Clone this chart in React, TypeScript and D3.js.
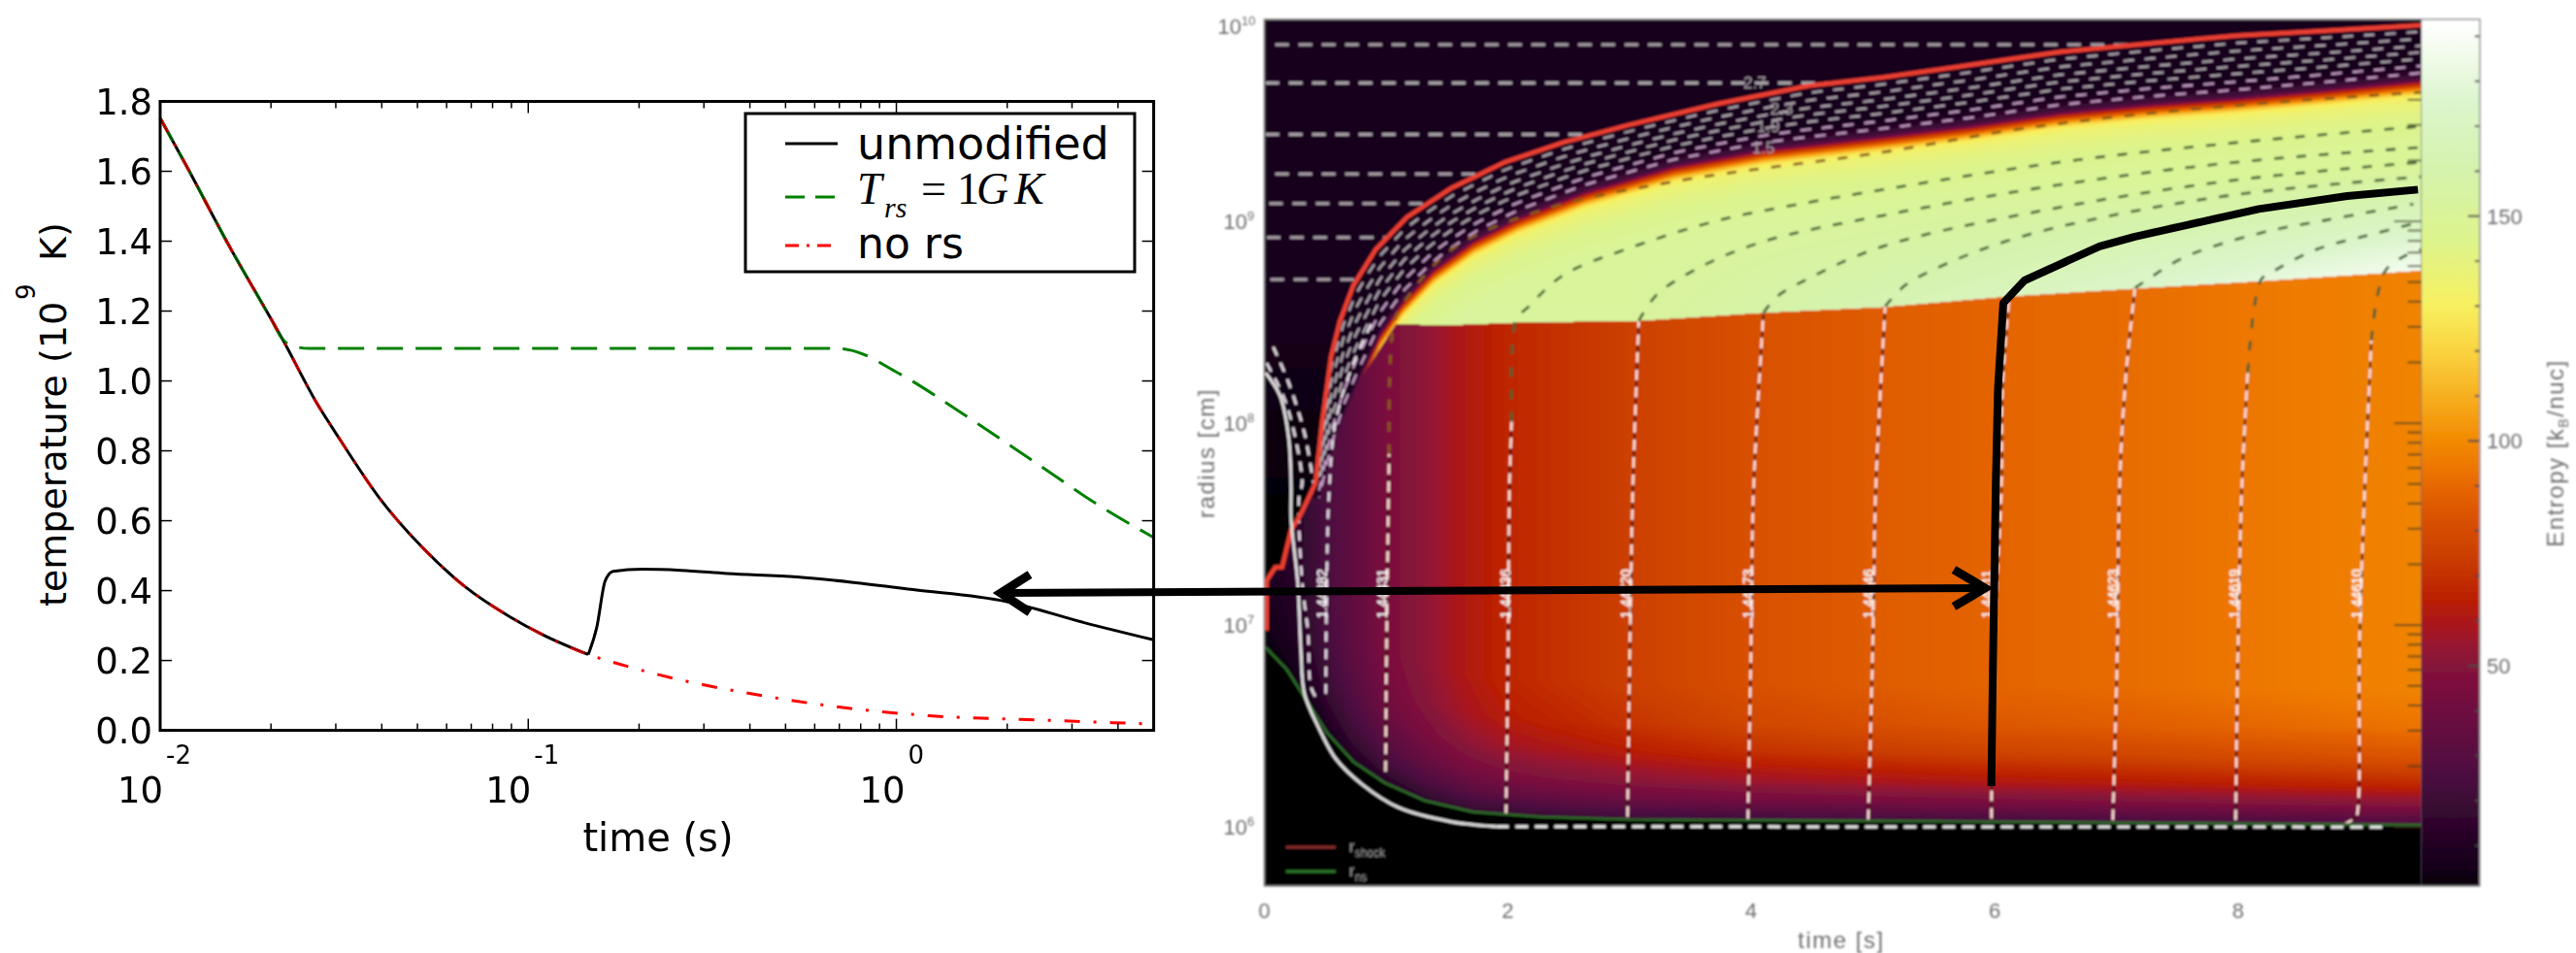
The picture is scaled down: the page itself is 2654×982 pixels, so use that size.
import React, { useMemo } from "react";
import * as d3 from "d3";

// ---------- left panel data (time in s, temperature in GK) ----------
const sharedT = [0.01, 0.01175, 0.01552, 0.01995, 0.02148, 0.02673, 0.0309, 0.03936, 0.0514, 0.067, 0.0895, 0.1089, 0.1455];
const sharedK = [1.752, 1.618, 1.38, 1.18, 1.12, 0.934, 0.83, 0.666, 0.525, 0.413, 0.324, 0.275, 0.217];
const blackT = [0.1455, 0.1535, 0.1618, 0.17, 0.204, 0.26, 0.3475, 0.537, 0.755, 1.11, 1.986, 3.22, 5];
const blackK = [0.217, 0.295, 0.428, 0.455, 0.461, 0.458, 0.449, 0.439, 0.424, 0.403, 0.369, 0.309, 0.259];
const greenT = [0.01, 0.01175, 0.01552, 0.01995, 0.02148, 0.0229, 0.0255, 0.668, 0.736, 1.01, 1.52, 2.3, 3.55, 5];
const greenK = [1.752, 1.618, 1.38, 1.18, 1.12, 1.1, 1.093, 1.093, 1.09, 1.023, 0.905, 0.778, 0.644, 0.552];
const redT = [0.1766, 0.248, 0.383, 0.684, 1.225, 2.41, 5];
const redK = [0.19, 0.149, 0.109, 0.068, 0.042, 0.03, 0.018];
const yTickVals = [0, 0.2, 0.4, 0.6, 0.8, 1.0, 1.2, 1.4, 1.6, 1.8];
const xDecades = [0.01, 0.1, 1];
const xExponents = ["-2", "-1", "0"];
const legendNames = ["unmodified", "no rs"];

// ---------- right panel data (time in s, log10 radius in cm) ----------
const shockT = [0.018, 0.02, 0.09, 0.146, 0.22, 0.3, 0.421, 0.476, 0.549, 0.622, 0.732, 0.915, 1.17, 1.538, 1.977, 2.453, 3.0, 3.735, 4.467, 5.083, 5.81, 6.535, 7.26, 7.99, 8.714, 9.505];
const shockR = [6.973, 7.222, 7.286, 7.286, 7.47, 7.55, 7.704, 8.009, 8.33, 8.507, 8.683, 8.86, 9.02, 9.165, 9.293, 9.39, 9.478, 9.583, 9.671, 9.713, 9.775, 9.839, 9.88, 9.92, 9.944, 9.971];
const edgeT = [0.45, 0.6, 0.769, 0.952, 1.135, 1.391, 1.72, 2.087, 2.636, 3.369, 4.1, 5.08, 5.81, 6.535, 7.26, 7.99, 8.714, 9.505];
const edgeR = [7.6, 7.95, 8.2, 8.442, 8.603, 8.764, 8.908, 9.02, 9.149, 9.277, 9.358, 9.425, 9.478, 9.542, 9.583, 9.615, 9.655, 9.703];
const cutT = [0.45, 0.6, 0.769, 1.08, 1.54, 2.087, 3.076, 4.1, 5.08, 6.1, 7.15, 8.17, 9.505];
const cutR = [7.6, 7.95, 8.2, 8.49, 8.486, 8.499, 8.507, 8.547, 8.575, 8.627, 8.667, 8.703, 8.756];
const nsT = [0.0, 0.018, 0.183, 0.33, 0.513, 0.732, 0.989, 1.318, 1.72, 2.27, 3.0, 5.08, 9.505];
const nsR = [6.89, 6.885, 6.781, 6.644, 6.468, 6.323, 6.219, 6.131, 6.074, 6.05, 6.037, 6.03, 6.01];
const surfT = [0.01, 0.128, 0.2, 0.22, 0.22, 0.275, 0.3, 0.33, 0.44, 0.586, 0.806, 1.098, 1.538, 1.904];
const surfR = [8.25, 8.137, 7.929, 7.688, 7.527, 7.206, 6.885, 6.66, 6.5, 6.339, 6.21, 6.098, 6.026, 6.002];
const footT = [1.904, 9.2];
const footR = [6.002, 6.0];
const coreEntropyT = [0, 0.3, 0.5, 0.75, 1, 1.3, 1.6, 2, 3, 4, 5, 6, 7, 8, 9.5];
const coreEntropyS = [8, 15, 25, 35, 45, 52, 60, 67, 75, 82, 86, 89, 91, 94, 98];
const heightPx = [0, 20, 40, 70, 100, 140];
const heightF = [0.25, 0.5, 0.68, 0.85, 0.95, 1];
const fringePx = [0, 4, 8, 12, 16, 22, 35, 70];
const fringeS = [30, 62, 85, 110, 128, 136, 142, 150];
const entropyStops = [0, 5, 25, 40, 50, 55, 60, 65, 75, 82, 89, 95, 100, 110, 120, 130, 145, 160, 175, 193];
const entropyColors = ["#000000", "#14001a", "#4a0c3f", "#6f1040", "#85123a", "#991530", "#ad1818", "#bb2000", "#cc4000", "#d85000", "#e46400", "#ee7a00", "#f28a00", "#f7b020", "#fad340", "#f8f060", "#dcf48e", "#d6f3ac", "#dcf5cc", "#ffffff"];
const cbTicks = d3.range(10, 191, 10);
const cbLabels = [50, 100, 150];
const rDecades = [6, 7, 8, 9, 10];
const tTicks = [0, 2, 4, 6, 8];

const shells: [number, number][][] = [
  [[0.996, 6.275], [1.007, 7.046], [1.025, 7.848], [1.062, 8.491], [1.135, 8.587], [1.538, 8.86], [2.27, 9.053], [3.369, 9.197], [5.082, 9.342], [6.172, 9.454], [7.262, 9.534], [8.351, 9.591], [9.505, 9.639]],
  [[1.985, 6.058], [2.003, 6.885], [2.014, 7.688], [2.032, 8.009], [2.069, 8.515], [2.16, 8.571], [2.453, 8.732], [3.003, 8.868], [3.735, 9.005], [4.467, 9.093], [5.082, 9.157], [6.535, 9.293], [7.988, 9.39], [9.505, 9.47]],
  [[2.984, 6.05], [3.003, 6.885], [3.028, 7.688], [3.076, 8.507], [3.222, 8.635], [3.552, 8.764], [4.101, 8.9], [5.082, 9.029], [6.535, 9.181], [7.988, 9.293], [9.505, 9.366]],
  [[3.973, 6.034], [3.998, 6.885], [4.02, 7.688], [4.101, 8.547], [4.211, 8.627], [4.467, 8.715], [5.082, 8.876], [6.535, 9.069], [7.988, 9.205], [9.505, 9.293]],
  [[4.961, 6.034], [4.998, 6.885], [5.024, 7.688], [5.101, 8.579], [5.265, 8.683], [5.628, 8.796], [6.172, 8.916], [6.899, 9.021], [7.988, 9.133], [9.505, 9.221]],
  [[5.973, 6.042], [5.991, 6.885], [6.056, 7.688], [6.063, 8.17], [6.118, 8.61], [6.245, 8.699], [6.862, 8.876], [8.17, 9.061], [9.477, 9.157]],
  [[6.971, 6.034], [7.008, 6.885], [7.026, 7.688], [7.08, 8.25], [7.153, 8.67], [7.225, 8.699], [7.552, 8.82], [8.17, 8.94], [8.714, 9.005], [9.44, 9.085]],
  [[7.98, 6.034], [7.999, 6.885], [8.031, 7.688], [8.079, 8.25], [8.188, 8.71], [8.278, 8.748], [8.641, 8.86], [9.077, 8.932], [9.44, 8.988]],
  [[8.859, 6.01], [8.968, 6.05], [8.986, 6.098], [8.997, 6.885], [9.041, 7.688], [9.095, 8.41], [9.204, 8.75], [9.368, 8.828], [9.505, 8.86]],
];
const earlyShells: [number, number][][] = [
  [[0.505, 6.66], [0.513, 7.206], [0.531, 7.64], [0.586, 8.009], [0.732, 8.298], [0.879, 8.491]],
  [[0.018, 8.298], [0.183, 8.09], [0.311, 7.704], [0.286, 7.64], [0.311, 7.206], [0.359, 6.965], [0.384, 6.692], [0.439, 6.628]],
  [[0.073, 8.378], [0.2, 8.2], [0.33, 7.95], [0.403, 7.704]],
];
const staticR = [9.875, 9.685, 9.43, 9.234, 9.088, 8.92, 8.712];
const staticStart = [0.09, 0.01, 0.01, 0.09, 0.04, 0.02, 0.05];
const bandFractions = [0.12, 0.25, 0.38, 0.5, 0.62, 0.75, 0.88];
const shellNames = ["1.44382", "1.44431", "1.44436", "1.44720", "1.44173", "1.44546", "1.44611", "1.44623", "1.44619", "1.44610"];
const shellNameT = [0.476, 0.97, 1.978, 2.966, 3.973, 4.96, 5.936, 6.97, 7.97, 8.97];
const bandNames = ["2.7", "2.3", "1.9", "1.5"];
const bandNameT = [4.03, 4.25, 4.14, 4.1];
const bandNameR = [9.687, 9.56, 9.47, 9.365];
const markT = [5.973, 5.984, 6.009, 6.027, 6.071, 6.245, 6.862, 7.153, 8.17, 8.896, 9.477];
const markR = [6.203, 6.725, 7.688, 8.17, 8.595, 8.707, 8.876, 8.924, 9.061, 9.125, 9.157];

const ramp = (a: number[], b: number[]) => d3.scaleLinear().domain(a).range(b).clamp(true);

const xL = d3.scaleLog().domain([0.01, 5]).range([165, 1188.6]);
const yL = d3.scaleLinear().domain([0, 1.8]).range([752.6, 104.5]);
const xR = d3.scaleLinear().domain([0, 9.505]).range([1302.6, 2494.6]);
const yR = d3.scaleLog().domain([5.1e5, 1e10]).range([913, 20]);
const yS = d3.scaleLinear().domain([50, 150]).range([686, 222.7]);

const zip = (a: number[], b: number[]) => a.map((v, i) => [v, b[i]] as [number, number]);
const lineL = d3.line<[number, number]>().x((d) => xL(d[0])).y((d) => yL(d[1])).curve(d3.curveMonotoneX);
const lineR = d3.line<[number, number]>().x((d) => xR(d[0])).y((d) => yR(10 ** d[1]));
const smoothR = d3.line<[number, number]>().x((d) => xR(d[0])).y((d) => yR(10 ** d[1])).curve(d3.curveCatmullRom);

const shockAt = ramp(shockT, shockR);
const edgeAt = ramp(edgeT, edgeR);
const cutAt = ramp(cutT, cutR);
const nsAt = ramp(nsT, nsR);
const shockInverse = ramp(shockR.slice(8), shockT.slice(8));

function buildField(): string {
  const W = 1192, H = 893;
  const cv = document.createElement("canvas");
  cv.width = W; cv.height = H;
  const ctx = cv.getContext("2d");
  if (!ctx) return "";
  const img = ctx.createImageData(W, H);
  const colorOf = d3.scaleLinear<string>().domain(entropyStops).range(entropyColors).interpolate(d3.interpolateRgb).clamp(true);
  const lut: number[][] = [];
  for (let i = 0; i <= 1940; i++) { const c = d3.rgb(colorOf(i / 10)); lut.push([c.r, c.g, c.b]); }
  const core = ramp(coreEntropyT, coreEntropyS);
  const hF = ramp(heightPx, heightF);
  const fr = ramp(fringePx, fringeS);
  const env = ramp([0, 6, 14], [26, 16, 7]);
  const gain = ramp([3, 6, 9.5], [2, 18, 38]);
  const decade = 893 / Math.log10(1e10 / 5.1e5);
  for (let px = 0; px < W; px++) {
    const t = xR.invert(1302.6 + px + 0.5);
    const sh = shockAt(t), ed = edgeAt(t), cu = cutAt(t), ns = nsAt(t), full = core(t), g = gain(t);
    for (let py = 0; py < H; py++) {
      const lr = Math.log10(yR.invert(20 + py + 0.5));
      let s = 0;
      if (lr < ns) s = 0;
      else if (lr > sh || t < 0.018) s = lr > 8.4 ? 5 : lr > 7.4 ? 5 * (lr - 7.4) : 0;
      else if (lr > ed) s = env((lr - ed) * decade);
      else if (lr > cu) {
        const e = (lr - cu) * decade;
        s = fr((ed - lr) * decade) + g * Math.max(0, 1 - e / 110);
      } else s = full * hF((lr - ns) * decade);
      const c = lut[Math.max(0, Math.min(1940, Math.round(s * 10)))];
      const k = (py * W + px) * 4;
      img.data[k] = c[0]; img.data[k + 1] = c[1]; img.data[k + 2] = c[2]; img.data[k + 3] = 255;
    }
  }
  ctx.putImageData(img, 0, 0);
  return cv.toDataURL("image/png");
}

const sans = "'DejaVu Sans', sans-serif";
const blurFont = "'Liberation Sans', sans-serif";

function LeftPanel() {
  const minor = xL.ticks().filter((v) => !xDecades.some((d) => Math.abs(d - v) < 1e-9));
  const x0 = 165, x1 = 1188.6, y0 = 752.6, y1 = 104.5;
  return (
    <g fontFamily={sans} fill="#000">
      <path d={lineL(zip(sharedT, sharedK))!} fill="none" stroke="#000" strokeWidth={3} />
      <path d={lineL(zip(blackT, blackK))!} fill="none" stroke="#000" strokeWidth={3} />
      <path d={lineL(zip(greenT, greenK))!} fill="none" stroke="#008000" strokeWidth={3} strokeDasharray="27 13" />
      <path d={lineL(zip(sharedT, sharedK).concat(zip(redT, redK)))!} fill="none" stroke="#ff0000" strokeWidth={3} strokeDasharray="16 14 3 14" />
      <path d={lineL(zip(sharedT, sharedK))!} fill="none" stroke="#000" strokeWidth={1.2} opacity={0.6} />
      {yTickVals.map((v) => (
        <g key={v}>
          <line x1={x0} x2={x0 + 12} y1={yL(v)} y2={yL(v)} stroke="#000" strokeWidth={1.5} />
          <line x1={x1} x2={x1 - 12} y1={yL(v)} y2={yL(v)} stroke="#000" strokeWidth={1.5} />
          <text x={157} y={yL(v)} dy="0.37em" textAnchor="end" fontSize={37}>{v.toFixed(1)}</text>
        </g>
      ))}
      {minor.map((v) => (
        <g key={v}>
          <line x1={xL(v)} x2={xL(v)} y1={y0} y2={y0 - 7} stroke="#000" strokeWidth={1.5} />
          <line x1={xL(v)} x2={xL(v)} y1={y1} y2={y1 + 7} stroke="#000" strokeWidth={1.5} />
        </g>
      ))}
      {xDecades.map((v, i) => {
        const shift = xExponents[i].length > 1 ? 3 : 9;
        return (
          <g key={v}>
            <line x1={xL(v)} x2={xL(v)} y1={y0} y2={y0 - 12} stroke="#000" strokeWidth={1.5} />
            <line x1={xL(v)} x2={xL(v)} y1={y1} y2={y1 + 12} stroke="#000" strokeWidth={1.5} />
            <text x={xL(v) + shift} y={827} textAnchor="end" fontSize={37}>10</text>
            <text x={xL(v) + shift + 3} y={787} fontSize={26}>{xExponents[i]}</text>
          </g>
        );
      })}
      <rect x={x0} y={y1} width={x1 - x0} height={y0 - y1} fill="none" stroke="#000" strokeWidth={3} />
      <text x={678} y={877} textAnchor="middle" fontSize={40}>time (s)</text>
      <text transform="translate(68,625) rotate(-90)" fontSize={38}>temperature (10</text>
      <text transform="translate(36,309) rotate(-90)" fontSize={26}>9</text>
      <text transform="translate(68,269) rotate(-90)" fontSize={38}>K)</text>
      <rect x={768} y={117} width={401} height={163} fill="#fff" stroke="#000" strokeWidth={3} />
      <line x1={809} x2={863} y1={148} y2={148} stroke="#000" strokeWidth={3} />
      <line x1={809} x2={863} y1={203} y2={203} stroke="#008000" strokeWidth={3} strokeDasharray="20 11" />
      <line x1={809} x2={863} y1={253} y2={253} stroke="#ff0000" strokeWidth={3} strokeDasharray="14 8 3 8" />
      <text x={883} y={164} fontSize={46}>{legendNames[0]}</text>
      <g fontFamily="'Liberation Serif', serif">
        <text x={883} y={210} fontSize={46} fontStyle="italic">T</text>
        <text x={911} y={224} fontSize={30} fontStyle="italic">rs</text>
        <text x={949} y={210} fontSize={46}>=</text>
        <text x={986} y={210} fontSize={46}>1</text>
        <text x={1006} y={210} fontSize={46} fontStyle="italic">G</text>
        <text x={1045} y={210} fontSize={46} fontStyle="italic">K</text>
      </g>
      <text x={883} y={266} fontSize={44}>{legendNames[1]}</text>
    </g>
  );
}

function RightPanel({ field }: { field: string }) {
  const xs = xR.range();
  const split = (pts: [number, number][]) => {
    const low = pts.filter((p) => p[1] <= cutAt(p[0]) + 0.005);
    const high = pts.filter((p) => p[1] > cutAt(p[0]) + 0.005);
    return { low, high: low.length ? [low[low.length - 1], ...high] : high };
  };
  const bandTs = d3.range(0.45, 9.505, 0.1).concat([9.505]);
  const minorTicks: number[] = [];
  [6, 7, 8, 9].forEach((k) => [1, 2, 3, 4, 5, 6, 7, 8, 9].forEach((m) => { const v = m * 10 ** k; if (Math.log10(v) < 9.65) minorTicks.push(v); }));
  return (
    <g>
      <defs>
        <clipPath id="panelClip"><rect x={xs[0]} y={20} width={xs[1] - xs[0]} height={893} /></clipPath>
        <filter id="soft" filterUnits="userSpaceOnUse" x={1200} y={0} width={1454} height={982}>
          <feGaussianBlur stdDeviation={0.9} />
        </filter>
        <linearGradient id="cbGrad" gradientUnits="userSpaceOnUse" x1={0} x2={0} y1={yS(0)} y2={yS(193)}>
          {entropyStops.map((s, i) => <stop key={s} offset={s / 193} stopColor={entropyColors[i]} />)}
        </linearGradient>
      </defs>
      <g filter="url(#soft)">
        {field && <image href={field} x={xs[0]} y={20} width={xs[1] - xs[0]} height={893} preserveAspectRatio="none" />}
        <rect x={xs[1]} y={20} width={2554.8 - xs[1]} height={893} fill="url(#cbGrad)" />
        <g clipPath="url(#panelClip)" fill="none">
          {staticR.map((r, i) => (
            <path key={r} d={lineR([[staticStart[i], r], [shockInverse(r), r]])!} stroke="#aaa2aa" strokeWidth={3} strokeDasharray="14 10" />
          ))}
          {bandFractions.map((f, i) => (
            <path key={f} d={lineR(bandTs.map((t) => [t, shockAt(t) * (1 - f) + edgeAt(t) * f] as [number, number]))!}
              stroke={i > 4 ? "#c79ec7" : "#b0a8b0"} strokeWidth={2.3} strokeDasharray="11 11" strokeDashoffset={i * 9} />
          ))}
          {shells.map((pts, i) => {
            const { low, high } = split(pts);
            return (
              <g key={i}>
                <path d={smoothR(low)!} stroke="#4a0a10" strokeWidth={2} />
                <path d={smoothR(low)!} stroke="#ffe3d8" strokeWidth={2.6} strokeDasharray="11 7" />
                <path d={smoothR(high)!} stroke={i === 0 ? "#8a5a18" : "#3f6030"} strokeWidth={2.8} strokeDasharray="10 13" />
              </g>
            );
          })}
          {earlyShells.map((pts, i) => (
            <path key={i} d={smoothR(pts)!} stroke="#e8e0e8" strokeWidth={2.6} strokeDasharray="10 8" />
          ))}
          <path d={lineR(zip(nsT, nsR))!} stroke="#2e6b2a" strokeWidth={2.6} />
          <path d={lineR(zip(shockT, shockR))!} stroke="#ee4030" strokeWidth={4.5} />
          <path d={smoothR(zip(surfT, surfR))!} stroke="#e8e8e8" strokeWidth={2.8} />
          <path d={lineR(zip(footT, footR))!} stroke="#f0f0f0" strokeWidth={3} strokeDasharray="13 7" />
        </g>
        {shellNames.map((n, i) => (
          <text key={n} transform={`translate(${xR(shellNameT[i]) + 5},637) rotate(-90)`} fontSize={14} fill="#ffffff" stroke="#ffffff" strokeWidth={0.4} fontFamily={blurFont}>{n}</text>
        ))}
        {bandNames.map((n, i) => (
          <text key={n} x={xR(bandNameT[i])} y={yR(10 ** bandNameR[i]) + 6} textAnchor="middle" fontSize={17} fill="#a9a1a9" fontFamily={blurFont}>{n}</text>
        ))}
        {minorTicks.map((v) => {
          const major = Math.abs(Math.log10(v) % 1) < 1e-9;
          return <line key={v} x1={xs[1]} x2={xs[1] - (major ? 28 : 14)} y1={yR(v)} y2={yR(v)} stroke="#3d3a20" strokeWidth={2} opacity={0.75} />;
        })}
        {cbTicks.map((s) => {
          const long = cbLabels.includes(s);
          return <line key={s} x1={2554.8} x2={2554.8 - (long ? 12 : 5)} y1={yS(s)} y2={yS(s)} stroke="#444" strokeWidth={2} />;
        })}
        <line x1={xs[1]} x2={xs[1]} y1={20} y2={913} stroke="#445" strokeWidth={1} opacity={0.6} />
        <rect x={xs[0]} y={20} width={2554.8 - xs[0]} height={893} fill="none" stroke="#8a8a8a" strokeWidth={1.5} />
        <line x1={1325} x2={1376} y1={873} y2={873} stroke="#8a3030" strokeWidth={3} />
        <line x1={1325} x2={1376} y1={898} y2={898} stroke="#2e7a2a" strokeWidth={3} />
        <g fill="#9a9a9a" fontFamily={blurFont}>
          <text x={1390} y={878} fontSize={17}>r<tspan fontSize={12} dy={5}>shock</tspan></text>
          <text x={1390} y={903} fontSize={17}>r<tspan fontSize={12} dy={5}>ns</tspan></text>
        </g>
        <g fill="#6e6e6e" fontFamily={blurFont}>
          {tTicks.map((v) => <text key={v} x={xR(v)} y={946} textAnchor="middle" fontSize={22}>{v}</text>)}
          {rDecades.map((k) => {
            const y = Math.max(yR(10 ** k), 27) + 8;
            return (
              <g key={k}>
                <text x={k === 10 ? 1279 : 1285} y={y} textAnchor="end" fontSize={22}>10</text>
                <text x={k === 10 ? 1279 : 1285} y={y - 9} fontSize={13}>{k}</text>
              </g>
            );
          })}
          {cbLabels.map((s) => <text key={s} x={2562} y={yS(s) + 8} fontSize={22}>{s}</text>)}
          <text x={1897} y={977} textAnchor="middle" fontSize={24} letterSpacing={1.5}>time [s]</text>
          <text transform="translate(1251,467) rotate(-90)" textAnchor="middle" fontSize={24} letterSpacing={1.5}>radius [cm]</text>
          <text transform="translate(2641,467) rotate(-90)" textAnchor="middle" fontSize={24} letterSpacing={1.5}>Entropy [k<tspan fontSize={14} dy={5}>B</tspan><tspan dy={-5}>/nuc]</tspan></text>
        </g>
      </g>
      <path d={lineR(zip(markT, markR))!} fill="none" stroke="#000" strokeWidth={8} strokeLinejoin="round" />
    </g>
  );
}

export default function App() {
  const field = useMemo(buildField, []);
  return (
    <svg width={2654} height={982} viewBox="0 0 2654 982" style={{ position: "absolute", left: 0, top: 0, display: "block", background: "#fff" }}>
      <RightPanel field={field} />
      <LeftPanel />
      <g fill="none" stroke="#000" strokeWidth={8}>
        <line x1={1030} y1={611} x2={2044} y2={606} />
        <polyline points="1061,592 1031,611 1061,631" strokeWidth={9} />
        <polyline points="2013,587 2045,606 2013,625" strokeWidth={9} />
      </g>
    </svg>
  );
}
